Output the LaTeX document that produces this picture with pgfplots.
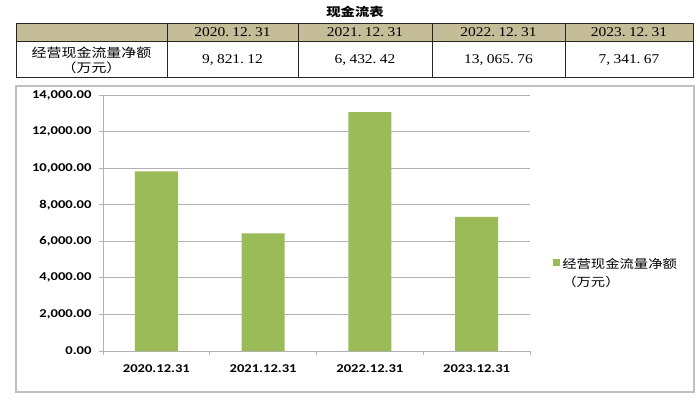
\documentclass[border=0pt]{standalone}
\usepackage{fontspec}
\usepackage{pgfplots}
\pgfplotsset{compat=1.18}
\newfontfamily\cjk[FakeStretch=1.2]{Noto Sans CJK SC}
\newfontfamily\numf[FakeStretch=1.15]{Liberation Serif}
\newfontfamily\axf[FakeStretch=1.22]{Carlito}
\definecolor{barg}{RGB}{155,187,89}
\definecolor{hdr}{RGB}{196,189,151}
\definecolor{gridc}{RGB}{178,178,178}
\definecolor{boxc}{RGB}{192,192,192}
\begin{document}
\begin{tikzpicture}[x=1bp,y=1bp]
\path[use as bounding box] (0,0) rectangle (700,399);
% chart frame
\draw[boxc, line width=1.5bp] (16,7) rectangle (694,313);
% table
\fill[hdr] (16,358) rectangle (693,376);
\draw[black!85, line width=0.9bp] (16,322) rectangle (693,376);
\draw[black!85, line width=0.9bp] (16,358) -- (693,358);
\foreach \x in {167,298,432,565} \draw[black!85, line width=0.9bp] (\x,322) -- (\x,376);
\node[font=\cjk\bfseries\fontsize{12}{14}\selectfont] at (355,387) {现金流表};
\begin{scope}[every node/.style={font=\numf\fontsize{13.5}{15}\selectfont}]
\node at (232.5,367) {2020.\kern.25em 12.\kern.25em 31};
\node at (365,367) {2021.\kern.25em 12.\kern.25em 31};
\node at (498.5,367) {2022.\kern.25em 12.\kern.25em 31};
\node at (629,367) {2023.\kern.25em 12.\kern.25em 31};
\node at (232.5,339) {9,\kern.25em 821.\kern.25em 12};
\node at (365,339) {6,\kern.25em 432.\kern.25em 42};
\node at (498.5,339) {13,\kern.25em 065.\kern.25em 76};
\node at (629,339) {7,\kern.25em 341.\kern.25em 67};
\end{scope}
\node[font=\cjk\fontsize{12.5}{15}\selectfont] at (91.5,346.5) {经营现金流量净额};
\node[font=\cjk\fontsize{12.5}{15}\selectfont] at (91.5,331) {（万元）};
\begin{axis}[
  at={(103bp,48bp)}, anchor=south west,
  scale only axis, width=427bp, height=256bp,
  xmin=-0.5, xmax=3.5, ymin=0, ymax=14000,
  axis x line*=bottom, axis y line*=left,
  every outer x axis line/.append style={-},
  every outer y axis line/.append style={-},
  axis line style={gridc, line width=0.9bp, -},
  ybar,
  xtick={0,1,2,3},
  xticklabels={2020.12.31,2021.12.31,2022.12.31,2023.12.31},
  minor xtick={-0.5,0.5,1.5,2.5,3.5},
  every major x tick/.append style={draw=none},
  major tick length=4bp,
  minor tick length=4bp,
  ytick={0,2000,4000,6000,8000,10000,12000,14000},
  tick align=outside,
  tick style={gridc, line width=0.8bp},
  ymajorgrids,
  grid style={gridc, line width=0.9bp},
  tick label style={font=\axf\bfseries\fontsize{12}{14}\selectfont, black},
  yticklabel style={xshift=-4bp},
  xticklabel style={yshift=-6bp},
  /pgf/number format/fixed,
  /pgf/number format/fixed zerofill,
  /pgf/number format/precision=2,
  /pgf/number format/1000 sep={,},
  /pgf/number format/assume math mode=true,
  scaled y ticks=false,
  legend style={draw=none, fill=none, at={(1.054,0.345)}, anchor=west,
    font=\cjk\fontsize{12}{18}\selectfont, inner sep=0pt},
  legend cell align=left,
]
\addplot[fill=barg, draw=none, bar width=43bp,
  legend image code/.code={\fill[barg] (0bp,-3.5bp) rectangle (7bp,3.5bp);}]
  coordinates {(0,9821.12) (1,6432.42) (2,13065.76) (3,7341.67)};
\addlegendentry{\begin{tabular}[t]{@{}l@{}}经营现金流量净额\\（万元）\end{tabular}}
\end{axis}
\end{tikzpicture}
\end{document}
